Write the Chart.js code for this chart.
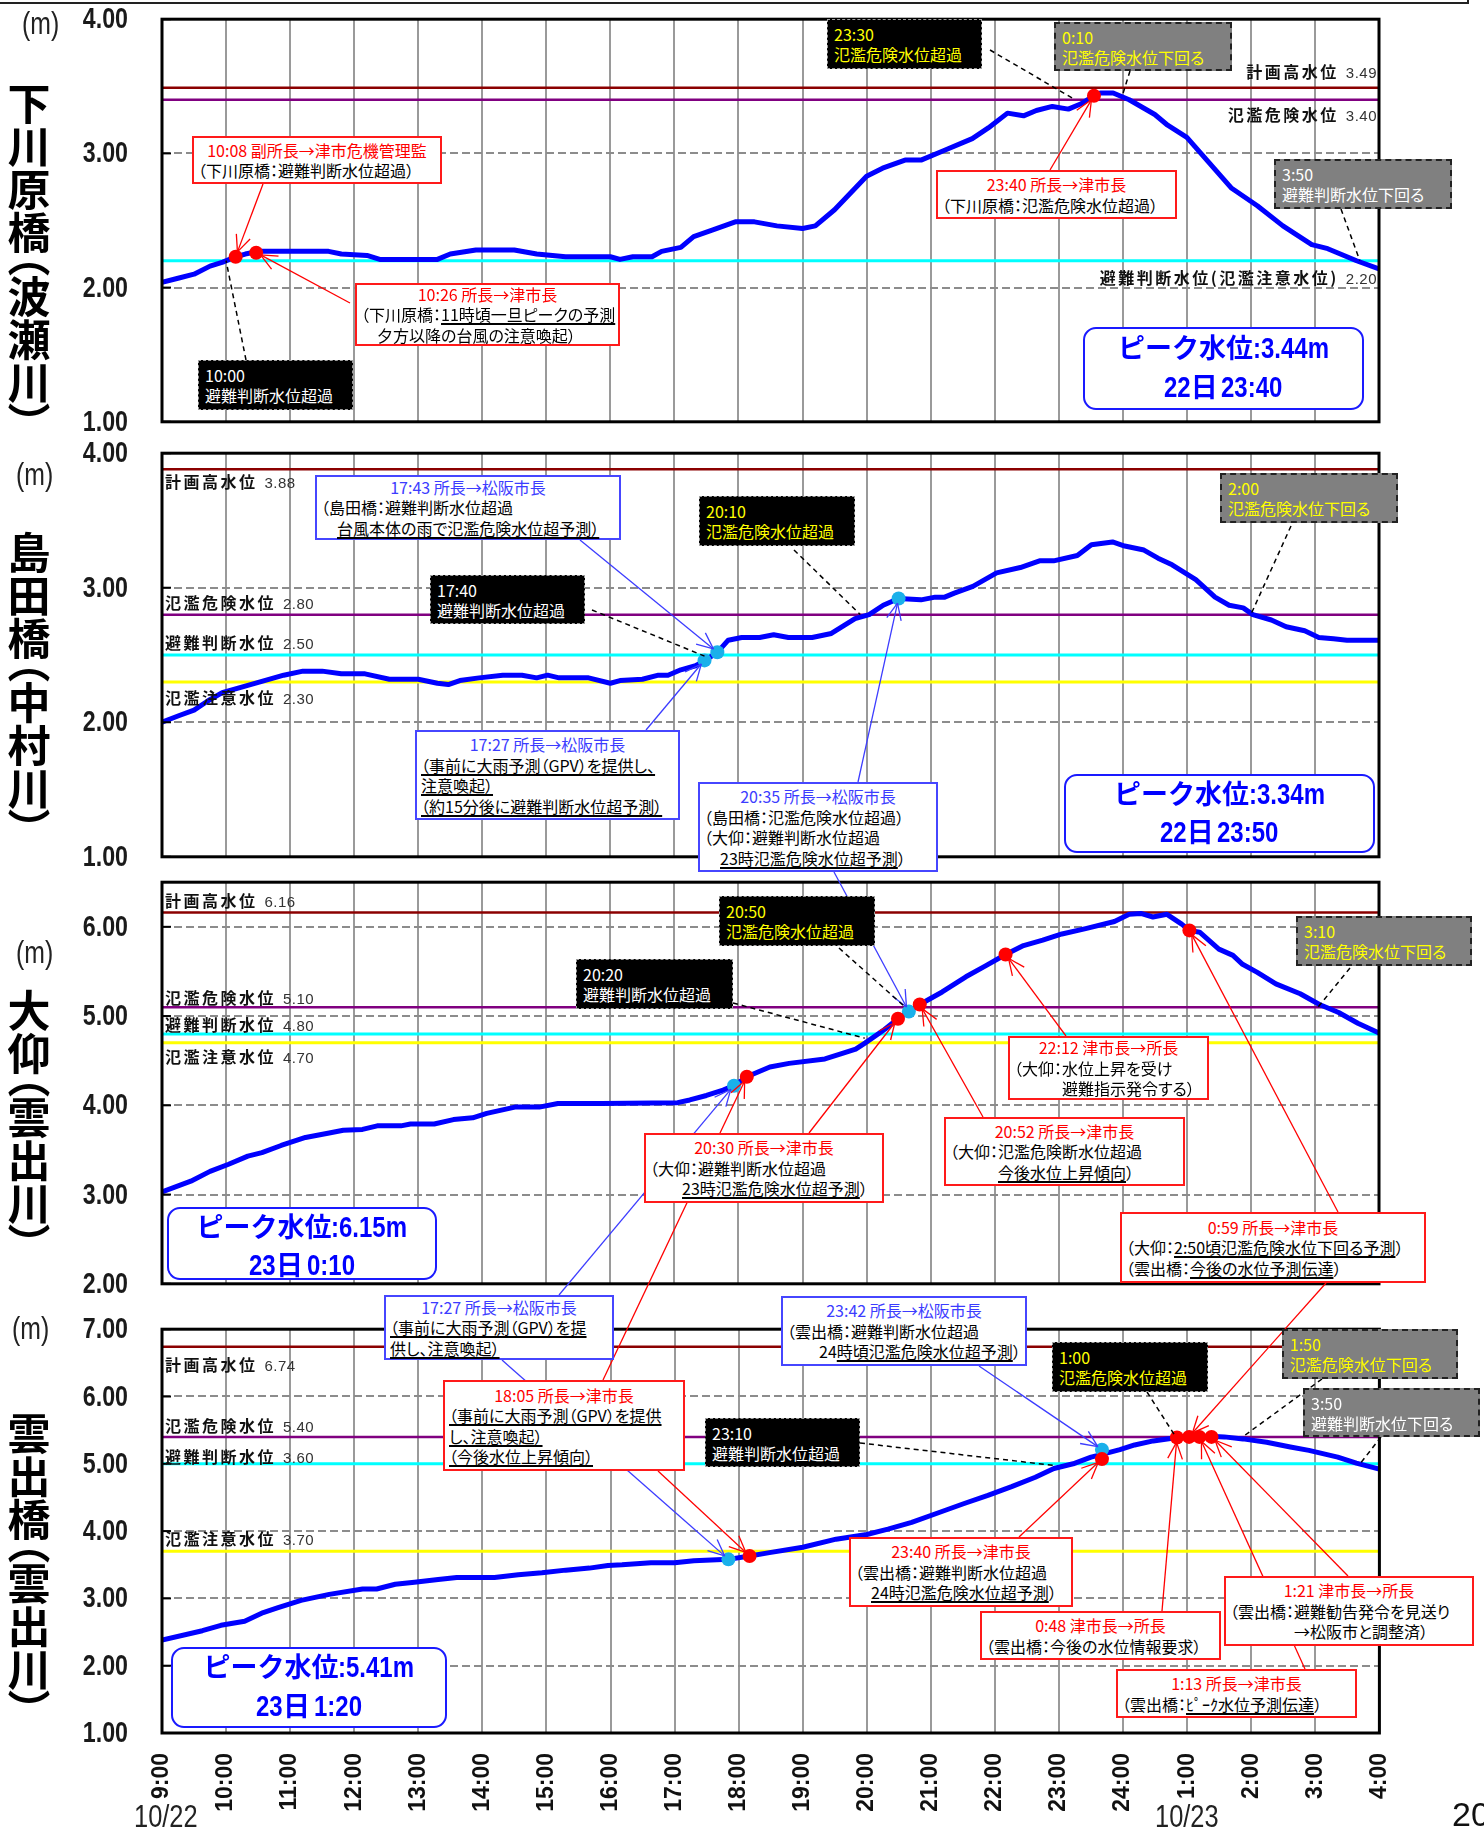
<!DOCTYPE html>
<html lang="ja">
<head>
<meta charset="utf-8">
<script src="https://cdn.jsdelivr.net/npm/chart.js@4/dist/chart.umd.min.js"></script>
<style>
html,body{margin:0;padding:0;background:#fff;}
#page{position:relative;width:1484px;height:1834px;overflow:hidden;background:#fff;font-family:'Noto Sans CJK JP','Noto Sans',sans-serif;}
canvas{position:absolute;left:0;}
#ov{position:absolute;left:0;top:0;}
.nb{position:absolute;box-sizing:border-box;display:flex;flex-direction:column;justify-content:center;font-size:16px;line-height:20.5px;white-space:nowrap;font-feature-settings:'palt';background:#fff;color:#000;}
.nb.red{border:2px solid #ff1a1a;}
.nb.blue{border:2px solid #4646ff;}
.nb .l1{text-align:center;}
.nb .ln{text-align:left;padding-left:4px;}
.nb.red .l1{color:#ff0000;}
.nb.blue .l1{color:#3c3cff;}
.nb.black{background:#000;border:1.5px dashed #a0a0a0;line-height:20px;}
.nb.gray{background:#808080;border:2px dashed #222;line-height:20px;}
.nb.black div,.nb.gray div{text-align:left;padding-left:6px;}
u{text-underline-offset:2px;text-decoration-thickness:1.5px;}
.thr{position:absolute;white-space:nowrap;font-weight:700;font-size:16px;letter-spacing:2.5px;color:#111;line-height:18px;}
.thr .v{font-family:'Liberation Sans',Arial,sans-serif;font-weight:400;font-size:15px;letter-spacing:0.5px;margin-left:7px;color:#333;}
.title{position:absolute;writing-mode:vertical-rl;font-size:43px;font-weight:700;letter-spacing:0px;line-height:46px;font-feature-settings:'vpal';color:#000;}
.nar{display:inline-block;transform-origin:0 50%;}
.unit{position:absolute;font-family:'Liberation Sans',sans-serif;font-size:31px;line-height:34px;color:#222;}
.peak{position:absolute;box-sizing:border-box;border:2.5px solid #1a1aff;border-radius:13px;background:#fff;color:#0000ff;text-align:center;display:flex;flex-direction:column;justify-content:space-evenly;line-height:34px;white-space:nowrap;}
.pj{font-size:27px;font-weight:700;}
.pn{font-family:'Liberation Sans',Arial,sans-serif;font-size:30px;font-weight:700;}
.date{position:absolute;font-family:'Liberation Sans',sans-serif;font-size:31px;line-height:32px;color:#222;}
.pg{position:absolute;font-family:'Liberation Sans',Arial,sans-serif;font-size:34px;line-height:36px;color:#111;}
#frame{position:absolute;left:-5px;top:-10px;width:1474px;height:14px;border:2.5px solid #222;box-sizing:border-box;}
</style>
</head>
<body>
<div id="page"><div id="frame"></div></div>
<script>
// ===================== DATA =====================
const xTickValues = [9,10,11,12,13,14,15,16,17,18,19,20,21,22,23,24,25,26,27,28];
const xTickLabels = ['9:00','10:00','11:00','12:00','13:00','14:00','15:00','16:00','17:00','18:00','19:00','20:00','21:00','22:00','23:00','24:00','1:00','2:00','3:00','4:00'];
const dateLabels = ['10/22','10/23'];

const panelTitles = ['下川原橋（波瀬川）','島田橋（中村川）','大仰（雲出川）','雲出橋（雲出川）'];
const yAxisMin = [1, 1, 2, 1];
const yAxisMax = [4, 4, 6.5, 7];

// 下川原橋（波瀬川）
const shimokawaraTimes  = [9.0,9.25,9.5,9.75,9.95,10.15,10.3,10.5,11.0,11.6,11.8,12.2,12.4,13.3,13.5,13.9,14.5,14.85,15.3,16.0,16.15,16.35,16.65,16.8,17.1,17.3,17.6,17.95,18.25,18.6,19.0,19.2,19.5,20.0,20.25,20.6,20.85,21.2,21.65,21.9,22.2,22.45,22.65,22.9,23.15,23.35,23.55,23.65,23.85,24.1,24.5,24.7,25.0,25.35,25.7,26.1,26.5,26.95,27.2,27.65,28.0];
const shimokawaraLevels = [2.04,2.07,2.10,2.16,2.19,2.23,2.25,2.27,2.27,2.27,2.25,2.24,2.21,2.21,2.25,2.28,2.28,2.25,2.23,2.23,2.21,2.23,2.23,2.27,2.30,2.38,2.43,2.49,2.49,2.46,2.44,2.46,2.58,2.83,2.89,2.95,2.95,3.02,3.11,3.19,3.30,3.28,3.32,3.35,3.33,3.37,3.43,3.45,3.45,3.40,3.29,3.21,3.12,2.93,2.74,2.61,2.46,2.32,2.29,2.20,2.14];
const shimokawaraRedTimes = [10.15, 10.47, 23.55];
const shimokawaraRedLevels = [2.23, 2.26, 3.43];
const shimokawaraCyanTimes = [];
const shimokawaraCyanLevels = [];
const shimokawaraThresholdNames = ['計画高水位','氾濫危険水位','避難判断水位(氾濫注意水位)'];
const shimokawaraThresholdValues = [3.49, 3.40, 2.20];
const shimokawaraThresholdTexts = ['3.49','3.40','2.20'];

// 島田橋（中村川）
const shimadaTimes  = [9.0,9.27,9.5,9.72,9.94,10.23,10.6,10.9,11.2,11.5,11.8,12.17,12.55,13.0,13.3,13.47,13.65,13.95,14.32,14.62,14.85,15.02,15.2,15.66,16.0,16.15,16.5,16.75,16.9,17.1,17.33,17.48,17.67,17.84,18.05,18.33,18.55,18.78,19.15,19.45,19.82,20.04,20.26,20.5,20.85,21.07,21.22,21.37,21.66,22.03,22.4,22.7,22.92,23.29,23.51,23.84,24.03,24.33,24.55,24.77,25.14,25.44,25.66,25.88,26.03,26.32,26.55,26.84,27.06,27.29,27.5,28.0];
const shimadaLevels = [2.00,2.05,2.09,2.16,2.22,2.26,2.31,2.35,2.38,2.38,2.36,2.36,2.32,2.32,2.29,2.28,2.31,2.33,2.35,2.35,2.33,2.35,2.33,2.33,2.29,2.31,2.32,2.35,2.35,2.39,2.42,2.46,2.52,2.61,2.63,2.63,2.65,2.63,2.63,2.66,2.77,2.80,2.87,2.92,2.91,2.93,2.93,2.96,3.01,3.11,3.15,3.20,3.20,3.24,3.32,3.34,3.31,3.28,3.22,3.17,3.06,2.93,2.87,2.85,2.80,2.76,2.71,2.68,2.63,2.62,2.61,2.61];
const shimadaRedTimes = [];
const shimadaRedLevels = [];
const shimadaCyanTimes = [17.47, 17.67, 20.5];
const shimadaCyanLevels = [2.46, 2.52, 2.92];
const shimadaThresholdNames = ['計画高水位','氾濫危険水位','避難判断水位','氾濫注意水位'];
const shimadaThresholdValues = [3.88, 2.80, 2.50, 2.30];
const shimadaThresholdTexts = ['3.88','2.80','2.50','2.30'];

// 大仰（雲出川）
const oogiTimes  = [9.0,9.45,9.75,10.04,10.34,10.56,10.86,11.24,11.61,11.83,12.13,12.36,12.73,12.88,13.25,13.55,13.85,14.07,14.51,14.89,15.18,15.86,17.05,17.24,17.5,17.76,17.93,18.13,18.49,18.79,19.35,19.61,19.83,19.98,20.28,20.49,20.66,20.83,21.18,21.55,21.85,22.17,22.45,22.75,23.05,23.42,23.87,24.1,24.28,24.47,24.69,24.92,25.04,25.2,25.5,25.72,25.87,26.1,26.39,26.77,27.07,27.37,27.67,28.0];
const oogiLevels = [3.03,3.15,3.26,3.34,3.43,3.47,3.55,3.64,3.69,3.72,3.73,3.77,3.77,3.79,3.79,3.84,3.86,3.91,3.98,3.98,4.02,4.02,4.03,4.06,4.11,4.17,4.22,4.32,4.43,4.47,4.52,4.58,4.63,4.70,4.85,4.97,5.05,5.13,5.27,5.44,5.56,5.69,5.79,5.85,5.92,5.98,6.06,6.14,6.15,6.11,6.14,6.03,5.96,5.94,5.75,5.68,5.58,5.49,5.36,5.25,5.13,5.04,4.92,4.81];
const oogiRedTimes = [18.13, 20.49, 20.83, 22.17, 25.04];
const oogiRedLevels = [4.32, 4.97, 5.13, 5.69, 5.96];
const oogiCyanTimes = [17.93, 20.66];
const oogiCyanLevels = [4.22, 5.05];
const oogiThresholdNames = ['計画高水位','氾濫危険水位','避難判断水位','氾濫注意水位'];
const oogiThresholdValues = [6.16, 5.10, 4.80, 4.70];
const oogiThresholdTexts = ['6.16','5.10','4.80','4.70'];

// 雲出橋（雲出川）
const kumozuTimes  = [9.0,9.63,9.92,10.29,10.58,10.8,11.17,11.61,12.13,12.35,12.64,12.94,13.31,13.6,14.19,14.56,14.93,15.3,15.67,15.96,16.18,16.63,17.0,17.3,17.84,18.17,18.48,19.0,19.52,20.0,20.33,20.7,21.14,21.52,21.89,22.26,22.63,22.92,23.22,23.5,23.67,23.95,24.18,24.47,24.77,25.03,25.36,25.58,25.87,26.24,26.61,26.9,27.35,27.64,28.0];
const kumozuLevels = [2.38,2.52,2.60,2.66,2.79,2.86,2.97,3.06,3.14,3.14,3.21,3.24,3.28,3.31,3.31,3.35,3.38,3.42,3.45,3.49,3.50,3.53,3.53,3.56,3.58,3.63,3.68,3.76,3.88,3.95,4.03,4.13,4.28,4.41,4.53,4.66,4.80,4.93,5.00,5.10,5.14,5.21,5.28,5.34,5.38,5.40,5.41,5.40,5.37,5.32,5.25,5.20,5.10,5.01,4.92];
const kumozuRedTimes = [18.17, 23.67, 24.84, 25.03, 25.19, 25.38];
const kumozuRedLevels = [3.63, 5.07, 5.39, 5.40, 5.40, 5.40];
const kumozuCyanTimes = [17.84, 23.67];
const kumozuCyanLevels = [3.58, 5.21];
const kumozuThresholdNames = ['計画高水位','氾濫危険水位','避難判断水位','氾濫注意水位'];
const kumozuThresholdValues = [6.74, 5.40, 5.00, 3.70];
const kumozuThresholdTexts = ['6.74','5.40','3.60','3.70'];

const peakLevels = ['3.44','3.34','6.15','5.41'];
const peakDays = ['22','22','23','23'];
const peakTimes = ['23:40','23:50','0:10','1:20'];

// ===================== LAYOUT / STYLE =====================
const PLOT_LEFT = 162, PLOT_RIGHT = 1379;
const plotBox = [
  {top:19, bottom:422},
  {top:453, bottom:857},
  {top:882, bottom:1284},
  {top:1329, bottom:1733}
];
const thrColors = ['#8b0000','#800080','#00ffff','#ffff00'];
const thrColorsP1 = ['#8b0000','#800080','#00ffff'];
const thrOffsets = [[-16,14,16],[12,-12,-13,15],[-12,-10,-10,13],[18,-12,-8,-13]];
const titleTops = [82, 531, 989, 1412];
const unitPos = [[22,7],[16,458],[16,936],[12,1312]];
const peakBoxes = [
  {x:1083,y:327,w:281,h:83},
  {x:1064,y:774,w:311,h:79},
  {x:167,y:1207,w:270,h:73},
  {x:171,y:1647,w:276,h:81}
];

const series = [
  {t:shimokawaraTimes, v:shimokawaraLevels, rt:shimokawaraRedTimes, rv:shimokawaraRedLevels, ct:shimokawaraCyanTimes, cv:shimokawaraCyanLevels, tn:shimokawaraThresholdNames, tv:shimokawaraThresholdValues, tx:shimokawaraThresholdTexts, tc:thrColorsP1},
  {t:shimadaTimes, v:shimadaLevels, rt:shimadaRedTimes, rv:shimadaRedLevels, ct:shimadaCyanTimes, cv:shimadaCyanLevels, tn:shimadaThresholdNames, tv:shimadaThresholdValues, tx:shimadaThresholdTexts, tc:thrColors},
  {t:oogiTimes, v:oogiLevels, rt:oogiRedTimes, rv:oogiRedLevels, ct:oogiCyanTimes, cv:oogiCyanLevels, tn:oogiThresholdNames, tv:oogiThresholdValues, tx:oogiThresholdTexts, tc:thrColors},
  {t:kumozuTimes, v:kumozuLevels, rt:kumozuRedTimes, rv:kumozuRedLevels, ct:kumozuCyanTimes, cv:kumozuCyanLevels, tn:kumozuThresholdNames, tv:kumozuThresholdValues, tx:kumozuThresholdTexts, tc:thrColors}
];

// annotation boxes (layout in page px); arrow/leader targets are data points (panel, time, level)
const notes = [
 {k:'red', x:192,y:136,w:250,h:48, lines:['10:08 副所長→津市危機管理監','（下川原橋：避難判断水位超過）'], arrows:[{f:[263,184],p:0,t:10.15,v:2.23}]},
 {k:'red', x:355,y:283,w:265,h:63, lines:['10:26 所長→津市長','（下川原橋：<u>11時頃一旦ピークの予測</u>','　夕方以降の台風の注意喚起）'], arrows:[{f:[350,303],p:0,t:10.47,v:2.26}]},
 {k:'black', x:198,y:360,w:155,h:50, c:'#fff', lines:['10:00','避難判断水位超過'], leaders:[{f:[246,360],p:0,t:10.0,v:2.20}]},
 {k:'black', x:827,y:19,w:155,h:50, c:'#ff0', lines:['23:30','氾濫危険水位超過'], leaders:[{f:[990,50],p:0,t:23.25,v:3.40}]},
 {k:'gray', x:1054,y:22,w:178,h:49, c:'#ff0', lines:['0:10','氾濫危険水位下回る'], leaders:[{f:[1130,71],p:0,t:24.0,v:3.44}]},
 {k:'red', x:936,y:170,w:241,h:49, lines:['23:40 所長→津市長','（下川原橋：氾濫危険水位超過）'], arrows:[{f:[1050,170],p:0,t:23.55,v:3.43}]},
 {k:'gray', x:1274,y:159,w:178,h:50, c:'#fff', lines:['3:50','避難判断水位下回る'], leaders:[{f:[1341,209],p:0,t:27.7,v:2.20}]},

 {k:'blue', x:315,y:475,w:306,h:65, lines:['17:43 所長→松阪市長','（島田橋：避難判断水位超過','　<u>台風本体の雨で氾濫危険水位超予測）</u>'], arrows:[{f:[580,540],p:1,t:17.67,v:2.52}]},
 {k:'black', x:430,y:575,w:155,h:49, c:'#fff', lines:['17:40','避難判断水位超過'], leaders:[{f:[592,610],p:1,t:17.47,v:2.49}]},
 {k:'blue', x:415,y:730,w:265,h:90, lines:['17:27 所長→松阪市長','<u>（事前に大雨予測（GPV）を提供し、</u>','<u>注意喚起）</u>','<u>（約15分後に避難判断水位超予測）</u>'], arrows:[{f:[646,730],p:1,t:17.47,v:2.46}]},
 {k:'black', x:699,y:496,w:156,h:50, c:'#ff0', lines:['20:10','氾濫危険水位超過'], leaders:[{f:[794,550],p:1,t:19.9,v:2.80}]},
 {k:'blue', x:698,y:782,w:240,h:90, lines:['20:35 所長→松阪市長','（島田橋：氾濫危険水位超過）','（大仰：避難判断水位超過','　<u>23時氾濫危険水位超予測</u>）'], arrows:[{f:[858,782],p:1,t:20.5,v:2.92},{f:[834,872],p:2,t:20.66,v:5.05}]},
 {k:'gray', x:1220,y:473,w:178,h:50, c:'#ff0', lines:['2:00','氾濫危険水位下回る'], leaders:[{f:[1291,526],p:1,t:26.0,v:2.80}]},

 {k:'black', x:576,y:959,w:157,h:50, c:'#fff', lines:['20:20','避難判断水位超過'], leaders:[{f:[733,1003],p:2,t:19.97,v:4.75}]},
 {k:'black', x:719,y:896,w:156,h:50, c:'#ff0', lines:['20:50','氾濫危険水位超過'], leaders:[{f:[839,948],p:2,t:20.6,v:5.10}]},
 {k:'gray', x:1296,y:916,w:176,h:50, c:'#ff0', lines:['3:10','氾濫危険水位下回る'], leaders:[{f:[1350,968],p:2,t:27.05,v:5.10}]},
 {k:'red', x:1008,y:1036,w:201,h:64, lines:['22:12 津市長→所長','（大仰：水位上昇を受け','　　　避難指示発令する）'], arrows:[{f:[1066,1036],p:2,t:22.17,v:5.69}]},
 {k:'red', x:944,y:1117,w:241,h:69, lines:['20:52 所長→津市長','（大仰：氾濫危険断水位超過','　　　<u>今後水位上昇傾向</u>）'], arrows:[{f:[983,1117],p:2,t:20.83,v:5.13}]},
 {k:'red', x:644,y:1133,w:240,h:70, lines:['20:30 所長→津市長','（大仰：避難判断水位超過','　　<u>23時氾濫危険水位超予測</u>）'], arrows:[{f:[809,1133],p:2,t:20.49,v:4.97}]},
 {k:'red', x:1120,y:1212,w:306,h:71, lines:['0:59 所長→津市長','（大仰：<u>2:50頃氾濫危険水位下回る予測</u>）','（雲出橋：<u>今後の水位予測伝達</u>）'], arrows:[{f:[1338,1212],p:2,t:25.04,v:5.96},{f:[1326,1283],p:3,t:25.03,v:5.40}]},
 {k:'blue', x:384,y:1295,w:230,h:65, lines:['17:27 所長→松阪市長','<u>（事前に大雨予測（GPV）を提</u>','<u>供し、注意喚起）</u>'], arrows:[{f:[559,1295],p:2,t:17.93,v:4.22},{f:[502,1360],p:3,t:17.84,v:3.58}]},
 {k:'red', x:443,y:1380,w:242,h:91, lines:['18:05 所長→津市長','<u>（事前に大雨予測（GPV）を提供</u>','<u>し、注意喚起）</u>','<u>（今後水位上昇傾向）</u>'], arrows:[{f:[603,1380],p:2,t:18.13,v:4.32},{f:[658,1471],p:3,t:18.17,v:3.63}]},

 {k:'black', x:705,y:1418,w:155,h:49, c:'#fff', lines:['23:10','避難判断水位超過'], leaders:[{f:[860,1443],p:3,t:22.95,v:4.97}]},
 {k:'blue', x:781,y:1296,w:246,h:70, lines:['23:42 所長→松阪市長','（雲出橋：避難判断水位超過','　　24<u>時頃氾濫危険水位超予測</u>）'], arrows:[{f:[979,1366],p:3,t:23.67,v:5.21}]},
 {k:'black', x:1052,y:1342,w:156,h:50, c:'#ff0', lines:['1:00','氾濫危険水位超過'], leaders:[{f:[1147,1392],p:3,t:24.82,v:5.40}]},
 {k:'gray', x:1282,y:1329,w:176,h:50, c:'#ff0', lines:['1:50','氾濫危険水位下回る'], leaders:[{f:[1322,1379],p:3,t:25.87,v:5.40}]},
 {k:'gray', x:1303,y:1388,w:177,h:49, c:'#fff', lines:['3:50','避難判断水位下回る'], leaders:[{f:[1381,1437],p:3,t:27.7,v:5.00}]},
 {k:'red', x:849,y:1537,w:224,h:70, lines:['23:40 所長→津市長','（雲出橋：避難判断水位超過','　<u>24時氾濫危険水位超予測</u>）'], arrows:[{f:[1019,1537],p:3,t:23.67,v:5.07}]},
 {k:'red', x:980,y:1611,w:241,h:49, lines:['0:48 津市長→所長','（雲出橋：今後の水位情報要求）'], arrows:[{f:[1162,1611],p:3,t:24.84,v:5.39}]},
 {k:'red', x:1224,y:1576,w:250,h:70, lines:['1:21 津市長→所長','（雲出橋：避難勧告発令を見送り','　　　　→松阪市と調整済）'], arrows:[{f:[1348,1576],p:3,t:25.38,v:5.40}]},
 {k:'red', x:1116,y:1669,w:241,h:49, lines:['1:13 所長→津市長','（雲出橋：<u>ﾋﾟｰｸ水位予測伝達</u>）'], arrows:[{f:[1305,1669],p:3,t:25.19,v:5.40}]}
];

// ===================== RENDER =====================
const page = document.getElementById('page');

const framePlugin = {
  id:'frame',
  afterDatasetsDraw(chart){
    const {ctx, chartArea:a, scales:{y}} = chart;
    ctx.save();
    ctx.strokeStyle = '#000';
    ctx.lineWidth = 2;
    y.ticks.forEach(t => {
      const py = y.getPixelForValue(t.value);
      ctx.beginPath(); ctx.moveTo(a.left, py); ctx.lineTo(a.left + 9, py); ctx.stroke();
    });
    ctx.lineWidth = 3;
    ctx.strokeRect(a.left, a.top, a.right - a.left, a.bottom - a.top);
    // condensed y tick labels (text from the scale's own ticks)
    ctx.fillStyle = '#1a1a1a';
    ctx.font = "bold 29px 'Liberation Sans', Arial, sans-serif";
    ctx.textAlign = 'right';
    ctx.textBaseline = 'middle';
    y.ticks.forEach(t => {
      const py = y.getPixelForValue(t.value);
      ctx.save();
      ctx.translate(a.left - 34, py + 1);
      ctx.scale(0.8, 1);
      ctx.fillText(t.label, 0, 0);
      ctx.restore();
    });
    ctx.restore();
  }
};

const pts = (ts, vs) => ts.map((t, i) => ({x:t, y:vs[i]}));
const charts = [], canvasTops = [];

function buildChart(i, top, width, height){
  const s = series[i];
  const xh = i === 3 ? 100 : 20;
  const cv = document.createElement('canvas');
  cv.width = width;
  cv.height = height;
  cv.style.top = top + 'px';
  page.appendChild(cv);

  const datasets = [];
  s.tv.forEach((v, k) => datasets.push({data:[{x:9,y:v},{x:28,y:v}], borderColor:s.tc[k], borderWidth:(k < 2 ? 2.5 : 3), pointRadius:0, order:3}));
  datasets.push({data:pts(s.t, s.v), borderColor:'#0000ff', borderWidth:5, pointRadius:0, borderJoinStyle:'round', borderCapStyle:'round', tension:0, order:1});
  if (s.rt.length) datasets.push({data:pts(s.rt, s.rv), showLine:false, pointRadius:7, pointBackgroundColor:'#ff0000', pointBorderWidth:0, order:0});
  if (s.ct.length) datasets.push({data:pts(s.ct, s.cv), showLine:false, pointRadius:7, pointBackgroundColor:'#1ab0ea', pointBorderWidth:0, order:0});

  return new Chart(cv, {
    type:'line',
    data:{datasets},
    options:{
      responsive:false, maintainAspectRatio:false, animation:false, devicePixelRatio:1, events:[],
      layout:{padding:{top:4, right:4, left:0, bottom:0}},
      plugins:{legend:{display:false}, tooltip:{enabled:false}},
      scales:{
        x:{
          type:'linear', min:9, max:28,
          afterBuildTicks:(sc) => { sc.ticks = xTickValues.map(v => ({value:v})); },
          afterFit:(sc) => { sc.height = xh; },
          grid:{color:'#9a9a9a', lineWidth:2, drawTicks:false},
          border:{display:false},
          ticks:{display:i === 3, autoSkip:false, minRotation:90, maxRotation:90, padding:20, color:'#111',
                 font:{family:"'Liberation Sans',Arial,sans-serif", size:23, weight:'bold'},
                 callback:(v, idx) => xTickLabels[idx]}
        },
        y:{
          type:'linear', min:yAxisMin[i], max:yAxisMax[i],
          afterBuildTicks:(sc) => { sc.ticks = sc.ticks.filter(t => Number.isInteger(t.value)); },
          afterFit:(sc) => { sc.width = PLOT_LEFT; },
          grid:{color:'#8c8c8c', lineWidth:2, drawTicks:false},
          border:{display:false, dash:[8,4]},
          ticks:{stepSize:1, padding:34, color:'rgba(0,0,0,0)', font:{size:12},
                 callback:(v) => Number(v).toFixed(2)}
        }
      }
    },
    plugins:[framePlugin]
  });
}

for (let i = 0; i < 4; i++) {
  const L = plotBox[i];
  const ph = L.bottom - L.top;
  const xh = i === 3 ? 100 : 20;
  // first pass: measure the space Chart.js keeps around the plot area
  let c = buildChart(i, 0, 1450, ph + 40 + xh);
  const padTop = c.chartArea.top;
  const padBot = c.height - c.chartArea.bottom;
  const padRight = c.width - c.chartArea.right;
  const cvs = c.canvas; c.destroy(); cvs.remove();
  // second pass: place/size the canvas so the plot area lands on its target rectangle
  const top = L.top - padTop;
  c = buildChart(i, top, Math.round(PLOT_RIGHT + padRight), Math.round(padTop + ph + padBot));
  charts.push(c);
  canvasTops.push(top);
}

function P(p, t, v){
  return [charts[p].scales.x.getPixelForValue(t), charts[p].scales.y.getPixelForValue(v) + canvasTops[p]];
}

// overlay for leader lines / arrows
const NS = 'http://www.w3.org/2000/svg';
const svg = document.createElementNS(NS, 'svg');
svg.setAttribute('id', 'ov'); svg.setAttribute('width', 1484); svg.setAttribute('height', 1834);
page.appendChild(svg);
function ln(x1, y1, x2, y2, col, w, dash){
  const e = document.createElementNS(NS, 'line');
  e.setAttribute('x1', x1); e.setAttribute('y1', y1); e.setAttribute('x2', x2); e.setAttribute('y2', y2);
  e.setAttribute('stroke', col); e.setAttribute('stroke-width', w);
  if (dash) e.setAttribute('stroke-dasharray', dash);
  svg.appendChild(e);
}
function arrow(f, to, col){
  const [x1, y1] = f, [x2, y2] = to;
  const dx = x2 - x1, dy = y2 - y1, L = Math.hypot(dx, dy), ux = dx / L, uy = dy / L;
  const tx = x2 - ux * 5, ty = y2 - uy * 5;
  ln(x1, y1, tx, ty, col, 1.3);
  const bx = -ux, by = -uy, len = 18;
  [-0.42, 0.42].forEach(a => {
    const rx = bx * Math.cos(a) - by * Math.sin(a), ry = bx * Math.sin(a) + by * Math.cos(a);
    ln(tx, ty, tx + rx * len, ty + ry * len, col, 1.3);
  });
}

notes.forEach(n => {
  const col = n.k === 'blue' ? '#3c3cff' : '#ff0000';
  (n.arrows || []).forEach(a => arrow(a.f, P(a.p, a.t, a.v), col));
  (n.leaders || []).forEach(a => { const [x, y] = P(a.p, a.t, a.v); ln(a.f[0], a.f[1], x, y, '#000', 1.5, '5 4'); });
});

// threshold labels
series.forEach((s, i) => {
  s.tn.forEach((name, k) => {
    const y = P(i, 9, s.tv[k])[1] + thrOffsets[i][k];
    const d = document.createElement('div');
    d.className = 'thr';
    d.innerHTML = name + '<span class="v">' + s.tx[k] + '</span>';
    d.style.top = (y - 9) + 'px';
    if (i === 0) d.style.right = (1484 - 1377) + 'px'; else d.style.left = '165px';
    page.appendChild(d);
  });
});

// annotation boxes
notes.forEach(n => {
  const d = document.createElement('div');
  d.className = 'nb ' + n.k;
  Object.assign(d.style, {left:n.x + 'px', top:n.y + 'px', width:n.w + 'px', height:n.h + 'px'});
  d.innerHTML = n.lines.map((t, j) => '<div class="' + (j === 0 ? 'l1' : 'ln') + '">' + t + '</div>').join('');
  if (n.c) d.style.color = n.c;
  page.appendChild(d);
});

// condense helper: squeeze an inline-block horizontally and take back the freed space
function condense(el, f){
  el.classList.add('nar');
  const w = el.getBoundingClientRect().width;
  el.style.transform = 'scaleX(' + f + ')';
  el.style.marginRight = (-(1 - f) * w) + 'px';
}

// peak boxes
peakBoxes.forEach((b, i) => {
  const d = document.createElement('div');
  d.className = 'peak';
  Object.assign(d.style, {left:b.x + 'px', top:b.y + 'px', width:b.w + 'px', height:b.h + 'px'});
  d.innerHTML = '<div><span class="pj">ピーク水位</span><span class="pn">:' + peakLevels[i] + 'm</span></div>' +
                '<div><span class="pn">' + peakDays[i] + '</span><span class="pj">日</span> <span class="pn">' + peakTimes[i] + '</span></div>';
  page.appendChild(d);
  d.querySelectorAll('.pn').forEach(e => condense(e, 0.8));
});

// titles and units
panelTitles.forEach((t, i) => {
  const d = document.createElement('div');
  d.className = 'title'; d.textContent = t;
  d.style.left = '6px'; d.style.top = titleTops[i] + 'px';
  page.appendChild(d);
  const u = document.createElement('div');
  u.className = 'unit';
  u.style.left = unitPos[i][0] + 'px'; u.style.top = unitPos[i][1] + 'px';
  const s = document.createElement('span'); s.textContent = '(m)';
  u.appendChild(s); page.appendChild(u);
  condense(s, 0.8);
});

// date labels under the time axis
[[134, dateLabels[0]], [1155, dateLabels[1]]].forEach(([x, t]) => {
  const d = document.createElement('div');
  d.className = 'date';
  d.style.left = x + 'px'; d.style.top = '1801px';
  const s = document.createElement('span'); s.textContent = t;
  d.appendChild(s); page.appendChild(d);
  condense(s, 0.82);
});
const pg = document.createElement('div');
pg.className = 'pg'; pg.textContent = '20';
pg.style.left = '1452px'; pg.style.top = '1796px';
page.appendChild(pg);
</script>
</body>
</html>
